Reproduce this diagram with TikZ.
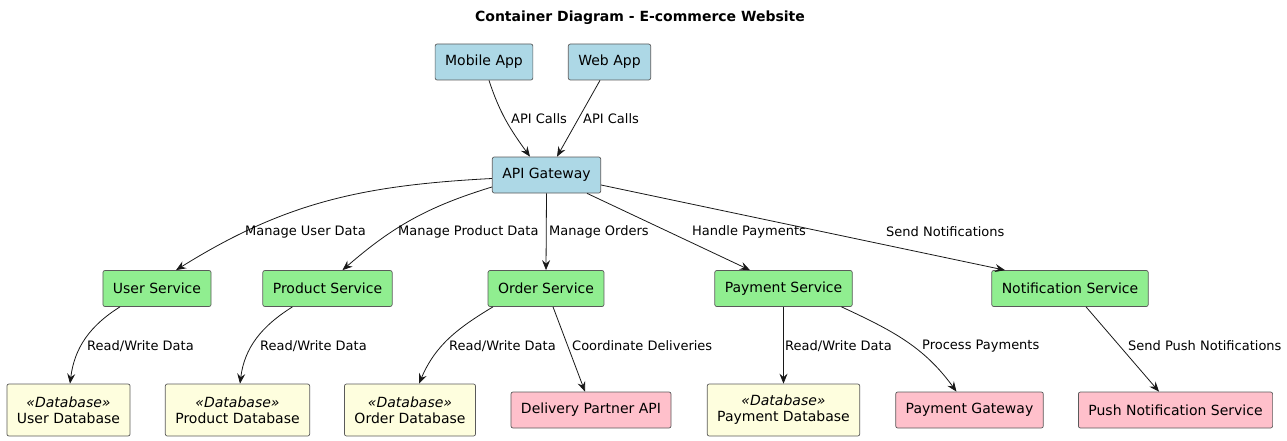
\documentclass[tikz,border=0pt]{standalone}
\usepackage{fontspec}
\setmainfont{DejaVu Sans}
\usetikzlibrary{arrows.meta}

\definecolor{appblue}{HTML}{ADD8E6}
\definecolor{svcgreen}{HTML}{90EE90}
\definecolor{dbyellow}{HTML}{FEFEDE}
\definecolor{extpink}{HTML}{FFC0CB}
\definecolor{boxline}{HTML}{5A5A5A}
\definecolor{arrowline}{HTML}{181818}

\begin{document}
\begin{tikzpicture}[x=1pt,y=1pt]
        % styles
        \tikzstyle{box}=[draw=boxline, line width=0.7pt, rounded corners=2pt, minimum height=36pt, inner xsep=10pt, font=\fontsize{14}{16}\selectfont]
        \tikzstyle{app}=[box, fill=appblue]
        \tikzstyle{service}=[box, fill=svcgreen]
        \tikzstyle{db}=[box, fill=dbyellow, minimum height=52pt, align=center]
        \tikzstyle{ext}=[box, fill=extpink]
        \tikzstyle{rel}=[-{Stealth[length=10pt,width=8pt,inset=3.5pt]}, line width=0.8pt, draw=arrowline]
        \tikzstyle{lbl}=[anchor=west, inner sep=0pt, font=\fontsize{13}{15}\selectfont]

        \useasboundingbox (0,0) rectangle (1287,-441);

        % title
        \node[font=\bfseries\fontsize{14}{16}\selectfont] (title) at (640,-18) {Container Diagram - E-commerce Website};

        % clients
        \node[app] (mobile) at (484,-62) {Mobile App};
        \node[app] (web) at (609.5,-62) {Web App};
        \node[app] (gw) at (546.5,-175) {API Gateway};

        % services
        \node[service] (user) at (157,-288.5) {User Service};
        \node[service] (product) at (327.5,-288.5) {Product Service};
        \node[service] (order) at (546,-288.5) {Order Service};
        \node[service] (payment) at (783.5,-288.5) {Payment Service};
        \node[service] (notif) at (1070,-288.5) {Notification Service};

        % databases and external systems
        \node[db] (userdb) at (68.5,-410) {\textit{«Database»}\\User Database};
        \node[db] (productdb) at (237.5,-410) {\textit{«Database»}\\Product Database};
        \node[db] (orderdb) at (410,-410) {\textit{«Database»}\\Order Database};
        \node[ext] (delivery) at (591,-410) {Delivery Partner API};
        \node[db] (paymentdb) at (783.5,-410) {\textit{«Database»}\\Payment Database};
        \node[ext] (pgw) at (969.5,-410) {Payment Gateway};
        \node[ext] (push) at (1175.5,-410) {Push Notification Service};

        % relations
        \draw[rel] ([xshift=5pt]mobile.south) to[out=-72, in=126] ([xshift=-16.5pt]gw.north);
        \draw[rel] ([xshift=-9.5pt]web.south) -- ([xshift=10.5pt]gw.north);
        \draw[rel] ([yshift=-3.5pt]gw.west) to[out=183, in=32] ([xshift=19pt]user.north);
        \draw[rel] ([yshift=-12pt]gw.west) to[out=197, in=41] ([xshift=15pt]product.north);
        \draw[rel] (gw.south) -- (order.north);
        \draw[rel] ([xshift=40.5pt]gw.south) -- ([xshift=-33.5pt]payment.north);
        \draw[rel] ([yshift=-10pt]gw.east) -- ([xshift=-65pt]notif.north);
        \draw[rel] ([xshift=-37pt]user.south) to[out=212, in=83] ([xshift=1.5pt]userdb.north);
        \draw[rel] ([xshift=-35pt]product.south) to[out=212, in=83] ([xshift=2.5pt]productdb.north);
        \draw[rel] ([xshift=-53pt]order.south) to[out=211, in=67] ([xshift=9pt]orderdb.north);
        \draw[rel] ([xshift=7pt]order.south) -- ([xshift=-6pt]delivery.north);
        \draw[rel] (payment.south) -- (paymentdb.north);
        \draw[rel] ([xshift=58pt]payment.south) to[out=-25, in=126] ([xshift=-13pt]pgw.north);
        \draw[rel] ([xshift=16pt]notif.south) -- ([xshift=-16.5pt]push.north);

        % relation labels
        \node[lbl] (l-mobile) at (511,-119) {API Calls};
        \node[lbl] (l-web) at (583,-119) {API Calls};
        \node[lbl] (l-user) at (245,-232) {Manage User Data};
        \node[lbl] (l-product) at (398,-232) {Manage Product Data};
        \node[lbl] (l-order) at (549,-232) {Manage Orders};
        \node[lbl] (l-payment) at (692,-232) {Handle Payments};
        \node[lbl] (l-notif) at (886,-232) {Send Notifications};
        \node[lbl] (l-userdb) at (87,-346) {Read/Write Data};
        \node[lbl] (l-productdb) at (260,-346) {Read/Write Data};
        \node[lbl] (l-orderdb) at (449,-346) {Read/Write Data};
        \node[lbl] (l-delivery) at (572,-346) {Coordinate Deliveries};
        \node[lbl] (l-paymentdb) at (785,-346) {Read/Write Data};
        \node[lbl] (l-pgw) at (922,-346) {Process Payments};
        \node[lbl] (l-push) at (1128,-346) {Send Push Notifications};
    \end{tikzpicture}
\end{document}
